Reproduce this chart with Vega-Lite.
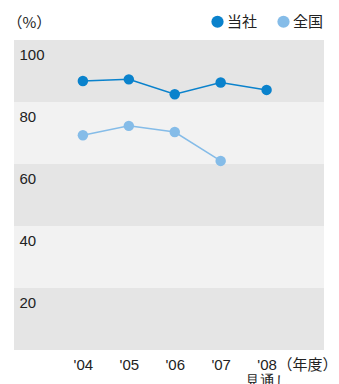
{
  "$schema": "https://vega.github.io/schema/vega-lite/v6.json",
  "width": 310,
  "height": 310,
  "autosize": {"type": "none"},
  "padding": {"left": 14, "top": 40, "right": 15, "bottom": 34},
  "background": "white",
  "config": {
    "font": "Liberation Sans",
    "view": {"stroke": null},
    "axis": {"labelFont": "Liberation Sans", "titleFont": "Noto Sans CJK JP"}
  },
  "datasets": {
    "bands": [
      {"lo": 80, "hi": 100, "shade": "dark"},
      {"lo": 60, "hi": 80, "shade": "light"},
      {"lo": 40, "hi": 60, "shade": "dark"},
      {"lo": 20, "hi": 40, "shade": "light"},
      {"lo": 0, "hi": 20, "shade": "dark"}
    ],
    "series": [
      {"year": 2004, "group": "当社", "value": 86.8},
      {"year": 2005, "group": "当社", "value": 87.3},
      {"year": 2006, "group": "当社", "value": 82.5},
      {"year": 2007, "group": "当社", "value": 86.3},
      {"year": 2008, "group": "当社", "value": 83.9},
      {"year": 2004, "group": "全国", "value": 69.3},
      {"year": 2005, "group": "全国", "value": 72.3},
      {"year": 2006, "group": "全国", "value": 70.3},
      {"year": 2007, "group": "全国", "value": 61.0}
    ]
  },
  "resolve": {"scale": {"color": "independent"}, "legend": {"color": "independent"}},
  "layer": [
    {
      "data": {"name": "bands"},
      "mark": {"type": "rect"},
      "encoding": {
        "y": {"field": "lo", "type": "quantitative", "scale": {"domain": [0, 100], "nice": false, "zero": false},
          "axis": {
            "values": [20, 40, 60, 80, 100],
            "title": "（%）",
            "titleAngle": 0,
            "titleX": -7,
            "titleY": -18,
            "titleAlign": "left",
            "titleBaseline": "middle",
            "titleFontSize": 15,
            "titleFontWeight": "normal",
            "titleColor": "#222222",
            "domain": false,
            "ticks": false,
            "grid": false,
            "zindex": 1,
            "labelAlign": "left",
            "labelBaseline": "alphabetic",
            "labelPadding": -5,
            "labelOffset": 19,
            "labelFontSize": 15,
            "labelColor": "#222222"
          }
        },
        "y2": {"field": "hi"},
        "color": {"field": "shade", "type": "nominal", "scale": {"domain": ["dark", "light"], "range": ["#e5e5e5", "#f2f2f2"]}, "legend": null}
      }
    },
    {
      "data": {"name": "series"},
      "mark": {"type": "line", "strokeWidth": 1.5, "point": {"size": 110, "filled": true, "opacity": 1}},
      "encoding": {
        "x": {"field": "year", "type": "quantitative", "scale": {"domain": [2002.5, 2009.25], "nice": false, "zero": false},
          "axis": {
            "values": [2004, 2005, 2006, 2007, 2008],
            "labelExpr": "datum.value == 2008 ? [\"'08\", '見通し'] : \"'\" + substring(toString(datum.value), 2, 4)",
            "domain": false,
            "ticks": false,
            "grid": false,
            "labelBaseline": "alphabetic",
            "labelPadding": 19,
            "labelFontSize": 15,
            "labelLineHeight": 16,
            "labelColor": "#222222",
            "title": "（年度）",
            "titleX": 263,
            "titleY": 19,
            "titleAlign": "left",
            "titleBaseline": "alphabetic",
            "titleFontSize": 15,
            "titleFontWeight": "normal",
            "titleColor": "#222222"
          }
        },
        "y": {"field": "value", "type": "quantitative"},
        "color": {"field": "group", "type": "nominal",
          "scale": {"domain": ["当社", "全国"], "range": ["#0a82cc", "#85bce8"]},
          "legend": {
            "title": null,
            "orient": "none",
            "direction": "horizontal",
            "legendX": 196,
            "legendY": -26,
            "symbolType": "circle",
            "symbolSize": 150,
            "symbolStrokeWidth": 0,
            "labelFont": "Noto Sans CJK JP",
            "labelFontSize": 15,
            "labelColor": "#222222",
            "labelOffset": 2,
            "columnPadding": 18
          }
        }
      }
    }
  ]
}
